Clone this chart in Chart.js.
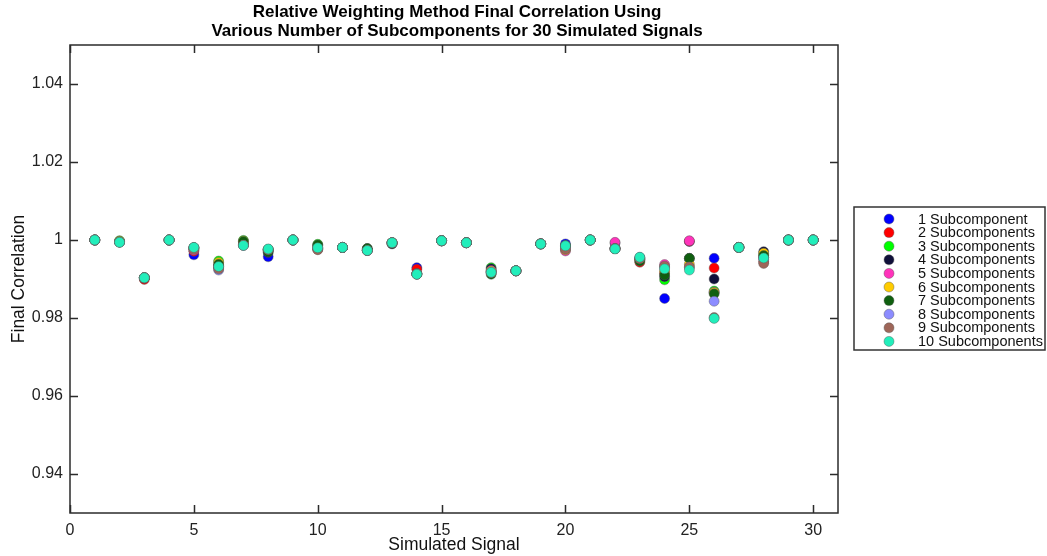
<!DOCTYPE html>
<html>
<head>
<meta charset="utf-8">
<script src="https://cdn.jsdelivr.net/npm/chart.js@4/dist/chart.umd.min.js"></script>
<style>
  html, body { margin: 0; padding: 0; background: #fff; }
  #wrap { width: 1047px; height: 556px; position: relative; }
</style>
</head>
<body>
<div id="wrap"><canvas id="c" width="1047" height="556"></canvas></div>
<script>
// Simulated signal index (x) and final correlation per number of subcomponents (y)
const signals = [1,2,3,4,5,6,7,8,9,10,11,12,13,14,15,16,17,18,19,20,21,22,23,24,25,26,27,28,29,30];

const sub1  = [1.0000,0.9995,0.9903,1.0000,0.9962,0.9930,0.9987,0.9957,1.0000,0.9980,0.9981,0.9974,0.9993,0.9929,0.9998,0.9993,0.9918,0.9921,0.9990,0.9990,1.0000,0.9992,0.9955,0.9850,0.9996,0.9953,0.9981,0.9955,1.0000,1.0000];
const sub2  = [1.0000,0.9995,0.9899,1.0000,0.9971,0.9931,0.9988,0.9975,1.0000,0.9976,0.9981,0.9974,0.9993,0.9925,0.9998,0.9993,0.9919,0.9921,0.9990,0.9984,1.0000,0.9978,0.9943,0.9915,0.9997,0.9928,0.9981,0.9944,1.0000,1.0000];
const sub3  = [1.0000,0.9998,0.9903,1.0000,0.9980,0.9946,0.9999,0.9976,1.0000,0.9989,0.9981,0.9975,0.9993,0.9913,0.9998,0.9993,0.9929,0.9921,0.9990,0.9986,1.0000,0.9978,0.9950,0.9898,0.9952,0.9869,0.9981,0.9962,1.0000,1.0000];
const sub4  = [1.0000,0.9995,0.9903,1.0000,0.9980,0.9934,0.9990,0.9968,1.0000,0.9986,0.9981,0.9978,0.9990,0.9913,0.9998,0.9993,0.9926,0.9921,0.9990,0.9985,1.0000,0.9978,0.9950,0.9906,0.9953,0.9900,0.9981,0.9970,1.0000,1.0000];
const sub5  = [1.0000,0.9995,0.9903,1.0000,0.9974,0.9933,0.9989,0.9974,1.0000,0.9978,0.9981,0.9973,0.9993,0.9913,0.9998,0.9993,0.9922,0.9921,0.9990,0.9972,1.0000,0.9994,0.9952,0.9937,0.9998,0.9866,0.9981,0.9955,1.0000,1.0000];
const sub6  = [1.0000,0.9997,0.9903,1.0000,0.9980,0.9942,0.9997,0.9975,1.0000,0.9982,0.9981,0.9974,0.9993,0.9913,0.9998,0.9993,0.9920,0.9921,0.9990,0.9975,1.0000,0.9978,0.9948,0.9920,0.9938,0.9865,0.9981,0.9966,1.0000,1.0000];
const sub7  = [1.0000,0.9995,0.9903,1.0000,0.9980,0.9938,0.9996,0.9970,1.0000,0.9987,0.9981,0.9978,0.9991,0.9913,0.9998,0.9993,0.9912,0.9921,0.9990,0.9984,1.0000,0.9978,0.9946,0.9910,0.9953,0.9862,0.9981,0.9960,1.0000,1.0000];
const sub8  = [1.0000,0.9995,0.9903,1.0000,0.9980,0.9923,0.9986,0.9976,1.0000,0.9978,0.9981,0.9973,0.9993,0.9913,0.9998,0.9993,0.9917,0.9921,0.9990,0.9978,1.0000,0.9978,0.9954,0.9930,0.9930,0.9843,0.9981,0.9950,1.0000,1.0000];
const sub9  = [1.0000,0.9995,0.9903,1.0000,0.9976,0.9926,0.9987,0.9975,1.0000,0.9975,0.9981,0.9973,0.9993,0.9913,0.9998,0.9993,0.9916,0.9921,0.9990,0.9977,1.0000,0.9978,0.9952,0.9933,0.9931,0.9801,0.9981,0.9940,1.0000,1.0000];
const sub10 = [1.0000,0.9994,0.9903,1.0000,0.9981,0.9932,0.9986,0.9977,1.0000,0.9980,0.9981,0.9973,0.9993,0.9912,0.9998,0.9993,0.9917,0.9921,0.9990,0.9985,1.0000,0.9977,0.9956,0.9926,0.9923,0.9799,0.9981,0.9954,1.0000,1.0000];

const seriesValues = [sub1, sub2, sub3, sub4, sub5, sub6, sub7, sub8, sub9, sub10];
const seriesLabels = ['1 Subcomponent','2 Subcomponents','3 Subcomponents','4 Subcomponents','5 Subcomponents',
                      '6 Subcomponents','7 Subcomponents','8 Subcomponents','9 Subcomponents','10 Subcomponents'];
const seriesColors = ['#0000ff','#ff0000','#00ff00','#10103a','#ff33bb','#ffcc00','#0f5f0f','#8c8cff','#9e6659','#22eebb'];

const xTicks = [0, 5, 10, 15, 20, 25, 30];
const yTicks = [0.94, 0.96, 0.98, 1, 1.02, 1.04];
const yTickLabels = ['0.94', '0.96', '0.98', '1', '1.02', '1.04'];
const titleLines = ['Relative Weighting Method Final Correlation Using',
                    'Various Number of Subcomponents for 30 Simulated Signals'];

const FONT = '"Liberation Sans", Arial, Helvetica, sans-serif';
const MARK_EDGE = 'rgba(90,90,90,0.55)';

const datasets = seriesValues.map((vals, i) => ({
  label: seriesLabels[i],
  data: signals.map((s, k) => ({ x: s, y: vals[k] })),
  backgroundColor: seriesColors[i],
  borderColor: MARK_EDGE,
  borderWidth: 0.8,
  pointRadius: 5,
  pointHoverRadius: 5,
  order: seriesValues.length - 1 - i   // later series are painted on top
}));

// Boxed axes with inward ticks on all four sides, the title and the legend
const framePlugin = {
  id: 'frame',
  afterDraw(chart) {
    const { ctx, chartArea: a } = chart;
    const xs = chart.scales.x, ys = chart.scales.y;
    const tl = 8;
    ctx.save();
    ctx.strokeStyle = '#2b2b2b';
    ctx.lineWidth = 1.5;
    ctx.strokeRect(a.left, a.top, a.right - a.left, a.bottom - a.top);
    ctx.beginPath();
    xTicks.forEach(v => {
      const px = Math.round(xs.getPixelForValue(v)) + 0.5;
      ctx.moveTo(px, a.bottom); ctx.lineTo(px, a.bottom - tl);
      ctx.moveTo(px, a.top);    ctx.lineTo(px, a.top + tl);
    });
    yTicks.forEach(v => {
      const py = Math.round(ys.getPixelForValue(v)) + 0.5;
      ctx.moveTo(a.left, py);  ctx.lineTo(a.left + tl, py);
      ctx.moveTo(a.right, py); ctx.lineTo(a.right - tl, py);
    });
    ctx.stroke();

    // title
    ctx.fillStyle = '#000';
    ctx.font = 'bold 17px ' + FONT;
    ctx.textAlign = 'center';
    ctx.textBaseline = 'middle';
    const cx = (a.left + a.right) / 2 + 3;
    ctx.fillText(titleLines[0], cx, 12);
    ctx.fillText(titleLines[1], cx, 31);

    // legend
    const lx = 854, ly = 207, lw = 191, lh = 143;
    ctx.fillStyle = '#fff';
    ctx.fillRect(lx, ly, lw, lh);
    ctx.strokeStyle = '#333';
    ctx.lineWidth = 1.5;
    ctx.strokeRect(lx, ly, lw, lh);
    ctx.font = '14.5px ' + FONT;
    ctx.textAlign = 'left';
    seriesLabels.forEach((lab, i) => {
      const y = 219 + i * 13.6;
      ctx.beginPath();
      ctx.arc(889, y, 5, 0, Math.PI * 2);
      ctx.fillStyle = seriesColors[i];
      ctx.fill();
      ctx.strokeStyle = MARK_EDGE;
      ctx.lineWidth = 0.8;
      ctx.stroke();
      ctx.fillStyle = '#111';
      ctx.fillText(lab, 918, y + 0.5);
    });
    ctx.restore();
  }
};

new Chart(document.getElementById('c'), {
  type: 'scatter',
  data: { datasets },
  options: {
    responsive: false,
    devicePixelRatio: 1,
    animation: false,
    layout: { padding: { left: 0, right: 209, top: 45, bottom: 0 } },
    plugins: { legend: { display: false }, title: { display: false }, tooltip: { enabled: false } },
    scales: {
      x: {
        type: 'linear', min: 0, max: 31,
        afterBuildTicks: s => { s.ticks = xTicks.map(v => ({ value: v })); },
        afterFit: s => { s.height = 43; },
        grid: { display: false, drawTicks: false },
        border: { display: false },
        ticks: { color: '#222', font: { family: FONT, size: 16 }, padding: 8, maxRotation: 0,
                 callback: v => String(v) },
        title: { display: true, text: 'Simulated Signal', color: '#111',
                 font: { family: FONT, size: 17.5 }, padding: 0 }
      },
      y: {
        type: 'linear', min: 0.93, max: 1.05,
        afterBuildTicks: s => { s.ticks = yTicks.map(v => ({ value: v })); },
        afterFit: s => { s.width = 70; },
        grid: { display: false, drawTicks: false },
        border: { display: false },
        ticks: { color: '#222', font: { family: FONT, size: 16 }, padding: 7,
                 callback: v => yTickLabels[yTicks.findIndex(t => Math.abs(t - v) < 1e-9)] },
        title: { display: true, text: 'Final Correlation', color: '#111',
                 font: { family: FONT, size: 17.5 }, padding: { top: 9, bottom: 0 } }
      }
    }
  },
  plugins: [framePlugin]
});
</script>
</body>
</html>
